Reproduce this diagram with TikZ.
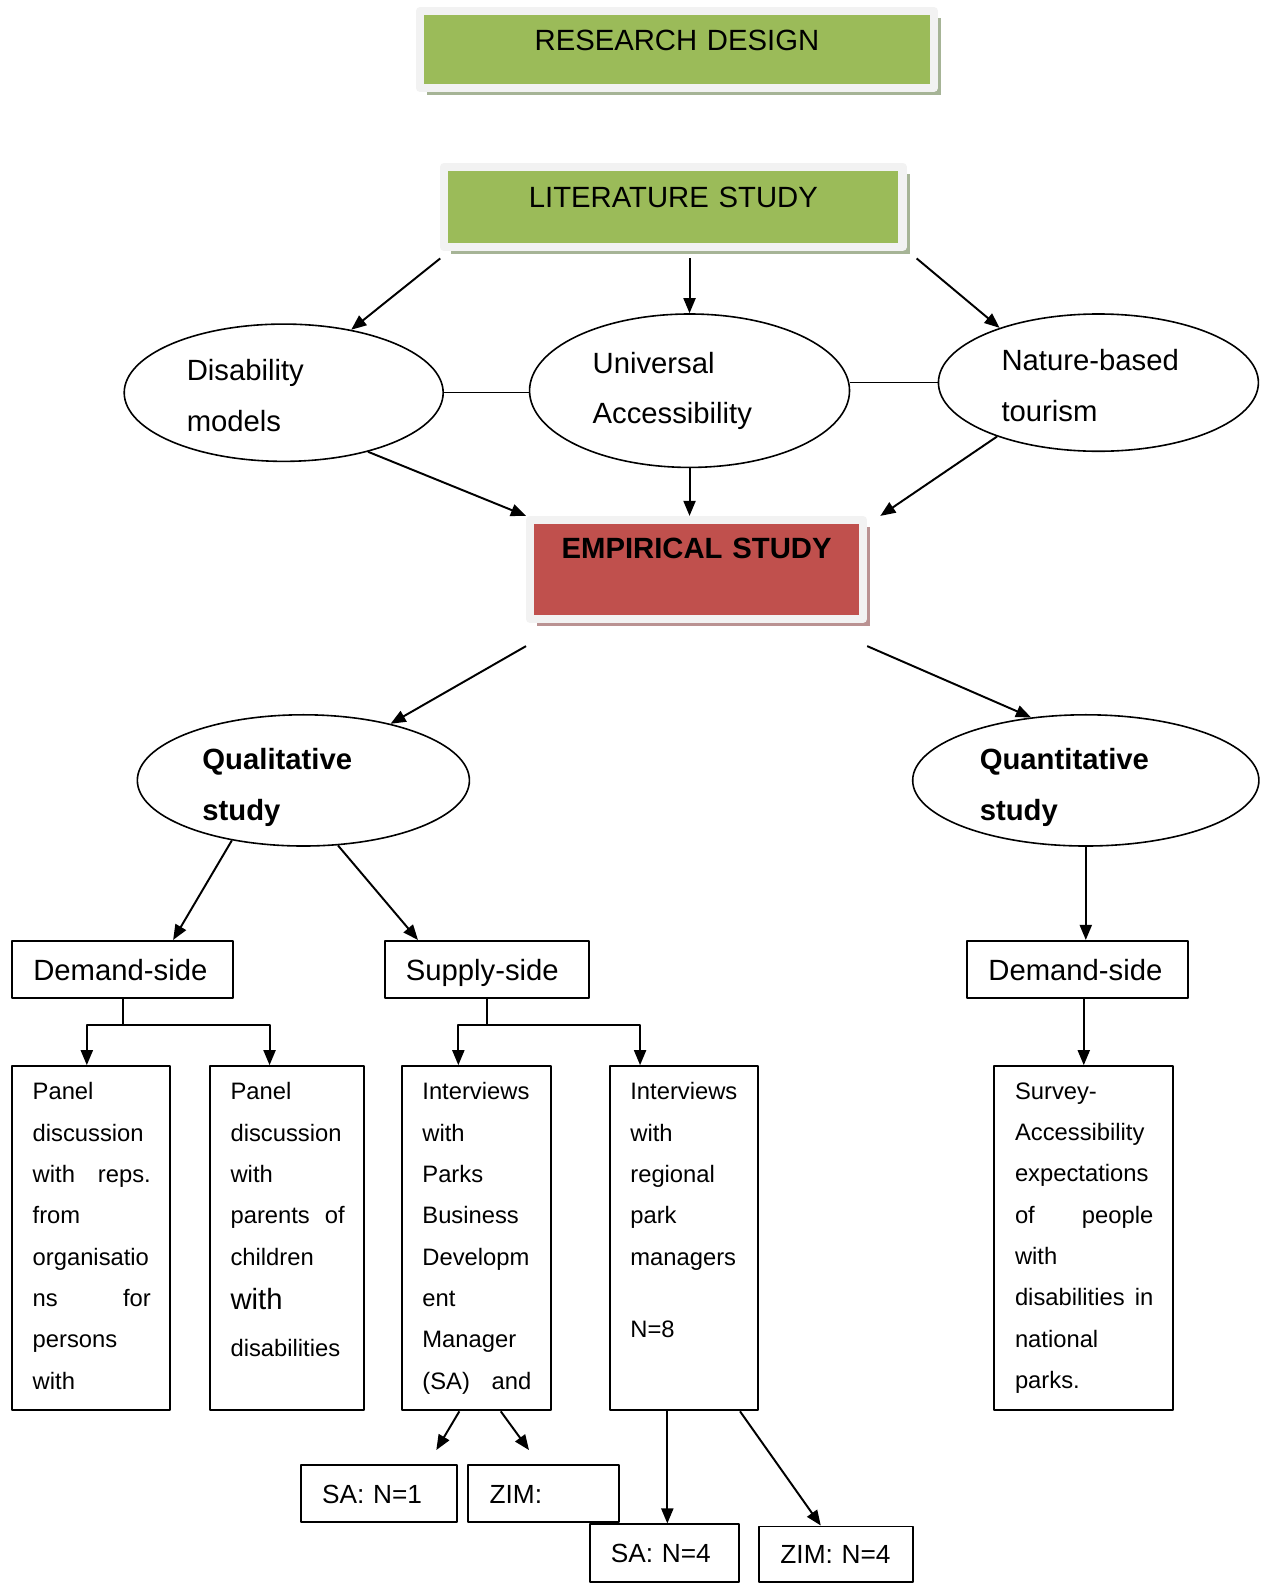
\documentclass[tikz,border=0pt]{standalone}
\usepackage{fontspec}
\setmainfont{Liberation Sans}
\usetikzlibrary{shapes.geometric,arrows.meta,shadows}
\definecolor{headgreen}{RGB}{155,187,89}
\definecolor{headred}{RGB}{192,80,77}
\definecolor{framegray}{RGB}{242,242,242}
\definecolor{shadegreen}{RGB}{166,180,150}
\definecolor{shadered}{RGB}{186,146,146}
\newcommand\lblfont{\fontsize{16.5}{20}\selectfont}
\newcommand\smlfont{\fontsize{14.8}{18}\selectfont}
\newcommand\ellfont{\fontsize{16.5}{28.4}\selectfont}
\newcommand\txtfont{\fontsize{13.4}{23.3}\selectfont}
\newcommand\topgap[1]{\rule{0pt}{#1}}
\begin{document}
\begin{tikzpicture}[x=0.02cm, y=-0.02cm, line join=round, >={Triangle[length=0.3cm,width=0.24cm]},
	head/.style n args={4}{draw=framegray, line width=0.16cm, inner sep=0pt, align=center, text width=#1, text height=#2, text depth=#3, drop shadow={shadow xshift=0.14cm, shadow yshift=-0.14cm, fill=#4, opacity=1}, font=\lblfont},
	ell/.style={ellipse, draw, line width=0.9pt, inner sep=0pt, align=left, text width=#1, font=\ellfont},
	lbox/.style={draw, line width=1.1pt, inner xsep=0.42cm, inner ysep=0pt, text height=11.8pt, text depth=0pt, minimum height=1.14cm, align=left, font=\lblfont},
	sbox/.style={lbox, text height=10.6pt, font=\smlfont},
	tbox/.style={draw, line width=1.1pt, inner sep=0pt, minimum height=6.82cm},
	btxt/.style={inner sep=0pt, align=left, anchor=north west, font=\txtfont},
	conn/.style={->, line width=1.1pt}]
	\useasboundingbox (0,0) rectangle (1251,1568);
	% headings
	\path
	(670.5,49) node[head={10.18cm}{0.79cm}{0.73cm}{shadegreen}, fill=headgreen] (rd) {RESEARCH DESIGN}
	(667,205) node[head={9.08cm}{0.81cm}{0.79cm}{shadegreen}, fill=headgreen] (lit) {LITERATURE STUDY}
	(690,564) node[head={6.6cm}{0.77cm}{1.19cm}{shadered}, fill=headred, font=\lblfont\bfseries] (emp) {EMPIRICAL STUDY}
	;
	% ellipses
	\path
	(281,389) node[ell=3.84cm, minimum width=6.32cm, minimum height=2.72cm] (dis) {\topgap{15.2pt}Disability\\models}
	(683,387) node[ell=3.84cm, minimum width=6.34cm, minimum height=3.04cm] (uni) {Universal\\Accessibility}
	(1088,379) node[ell=3.84cm, minimum width=6.34cm, minimum height=2.72cm] (nat) {\topgap{15.2pt}Nature-based\\tourism}
	(300.5,773) node[ell=4cm, minimum width=6.58cm, minimum height=2.6cm, font=\ellfont\bfseries] (qual) {\topgap{19.8pt}Qualitative\\study}
	(1075.5,773) node[ell=4.2cm, minimum width=6.86cm, minimum height=2.6cm, font=\ellfont\bfseries] (quant) {\topgap{19.8pt}Quantitative\\study}
	;
	% boxes
	\path
	(121.5,960.5) node[lbox, text width=3.54cm] (dl) {Demand-side}
	(482,960.5) node[lbox, text width=3.2cm] (sup) {Supply-side}
	(1067.5,960.5) node[lbox, text width=3.54cm] (dr) {Demand-side}
	(90,1226.5) node[tbox, minimum width=3.12cm] (p1) {}
	(284.5,1226.5) node[tbox, minimum width=3.06cm] (p2) {}
	(472,1226.5) node[tbox, minimum width=2.96cm] (p3) {}
	(677.5,1226.5) node[tbox, minimum width=2.94cm] (p4) {}
	(1073.5,1226.5) node[tbox, minimum width=3.54cm] (p5) {}
	(375.5,1479.5) node[sbox, text width=2.26cm] (s1) {SA: N=1}
	(538.5,1479.5) node[sbox, text width=2.14cm] (z1) {ZIM:}
	(658,1538.5) node[sbox, text width=2.12cm] (s2) {SA: N=4}
	(828,1539.5) node[sbox, text width=2.2cm, minimum height=1.1cm] (z2) {ZIM: N=4}
	;
	\path
	node[btxt, text width=2.34cm] (t1) at ([shift={(0.42cm,-0.34cm)}]p1.north west) {Panel\\discussion\\with\hfill reps.\\from\\organisatio\\ns\hfill for\\persons\\with}
	node[btxt, text width=2.26cm] (t2) at ([shift={(0.42cm,-0.34cm)}]p2.north west) {Panel\\discussion\\with\\parents\hfill of\\children\\[1.7pt]{\fontsize{16.5}{23.3}\selectfont with}\\[3.4pt]disabilities}
	node[btxt, text width=2.16cm] (t3) at ([shift={(0.42cm,-0.34cm)}]p3.north west) {Interviews\\with\\Parks\\Business\\Developm\\ent\\Manager\\(SA)\hfill and}
	node[btxt, text width=2.2cm] (t4) at ([shift={(0.42cm,-0.34cm)}]p4.north west) {Interviews\\with\\regional\\park\\managers\\[0.62cm]N=8}
	node[btxt, text width=2.74cm] (t5) at ([shift={(0.42cm,-0.34cm)}]p5.north west) {Survey-\\Accessibility\\expectations\\of\hfill people\\with\\disabilities\hfill in\\national\\parks.}
	;
	% connectors
	\coordinate (litb) at ([yshift=-0.14cm]lit.south);
	\draw[conn] ([yshift=-0.14cm]lit.south west) -- (dis.43);
	\draw[conn] (litb -| uni.north) -- (uni.north);
	\draw[conn] ([shift={(0.2cm,-0.14cm)}]lit.south east) -- (nat.151);
	\draw (dis.east) -- (uni.west |- dis.east);
	\draw (uni.east |- nat.west) -- (nat.west);
	\draw[conn] (dis.-35) -- (emp.north west);
	\draw[conn] (uni.south) -- (uni.south |- emp.north);
	\draw[conn] (nat.208) -- ([xshift=0.26cm]emp.north east);
	\draw[conn] ([yshift=-0.46cm]emp.south west) -- (qual.33);
	\draw[conn] ([yshift=-0.46cm]emp.south east) -- (quant.131);
	\draw[conn] (qual.220) -- ([xshift=1cm]dl.north);
	\draw[conn] (qual.-62) -- ([xshift=-1.36cm]sup.north);
	\draw[conn] (quant.south) -- (quant.south |- dr.north);
	\coordinate (dlj) at ([yshift=-0.5cm]dl.south);
	\coordinate (supj) at ([yshift=-0.5cm]sup.south);
	\draw[line width=1.1pt] (dl.south) -- (dlj) (sup.south) -- (supj);
	\draw[conn] (dlj) -| ([xshift=-0.08cm]p1.north);
	\draw[conn] (dlj) -| ([xshift=-0.35cm]p2.north);
	\draw[conn] (supj) -| ([xshift=-0.36cm]p3.north);
	\draw[conn] (supj) -| ([xshift=-0.87cm]p4.north);
	\draw[conn] (p5.north |- dr.south) -- (p5.north);
	\draw[conn, shorten >=0.32cm] ([xshift=-0.34cm]p3.south) -- ([xshift=0.97cm]s1.north);
	\draw[conn, shorten >=0.34cm] ([xshift=0.48cm]p3.south) -- ([xshift=-0.09cm]z1.north);
	\coordinate (s2t) at ([xshift=0.06cm]s2.north);
	\draw[conn] (s2t |- p4.south) -- (s2t);
	\draw[conn] ([xshift=1.11cm]p4.south) -- ([xshift=-0.3cm]z2.north);
\end{tikzpicture}
\end{document}
